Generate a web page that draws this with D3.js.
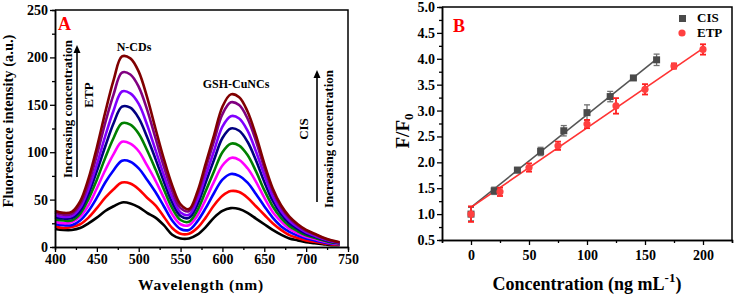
<!DOCTYPE html>
<html>
<head>
<meta charset="utf-8">
<script src="https://cdn.jsdelivr.net/npm/d3@7"></script>
<style>
body { margin: 0; background: #fff; }
svg text { font-family: "Liberation Serif", "Times New Roman", serif; font-weight: bold; }
</style>
</head>
<body>
<svg id="fig" width="734" height="297"></svg>
<script>
// ---- panel A : emission spectra ----
const wavelengths = [400,410,420,430,440,450,460,470,480,490,500,510,520,530,540,550,
  560,570,580,590,600,610,620,630,640,650,660,670,680,690,700,710,720,730,740];

const specBlack   = [19,18,18,20,25,31,38,43,47,46,42,36,31,23,13,9,
  9,13,21,31,38,41,40,36,30,24,18,13,9,7,5,4,3,2,2];
const specRed     = [22,20,21,24,31,41,52,61,68,67,61,52,44,32,20,14,
  14,20,31,44,54,59,58,52,43,34,25,18,12.5,9.6,7,5.5,4,2.8,2.5];
const specBlue    = [24,23,23,28,38,52,68,81,91,90,83,71,58,43,28,19,
  18,27,41,57,71,77,75,68,56,43,31,22,16,12,9,7,5,3.5,3];
const specMagenta = [27,25,26,32,44,62,81,98,111,109,101,86,70,52,34.5,24,
  23,33,50,69,86,94,92,83,69,52,37,27,19,14.5,10.7,8.4,6,4.2,3.3];
const specGreen   = [29,28,28,35,50.5,71,94,115,130.5,129,119.5,102,82,61,41,28.5,
  26.6,38.5,59,80,100,109,107,97,80,60,43,30.6,22,16.6,12.4,9.7,7,4.8,3.7];
const specNavy    = [31.5,30,30.5,38.4,56,80,106,130.5,148,147,136,116,93,69,47,32.7,
  30.7,44.5,68,92,115,125,122.6,111,91.6,68.8,48.8,34.7,25,19,14,11,8,5.5,4];
const specViolet  = [33.5,31.7,32.5,41.3,61,87,117,144,164,162,151,129,102.5,76,52.6,36.4,
  34,49.5,75,101.5,127,138,135.6,122.7,101,76,53.6,38,27.6,20.8,15.5,12,8.7,6,4.4];
const specPurple  = [36,34,35,45,67,97,131,161,184,182,169,145,115,85,59,41,
  37.8,55,83,112,140,152.6,149.7,135.5,112,83.5,59,41.8,30.4,22.8,17,13.3,9.5,6.7,4.8];
const specMaroon  = [38,36,37,48,72,105,142,176,201,199,185,158,125,93,65,45,
  40,58,88,118,148,161,158,143,118,88,62,44,32,24,18,14,10,7,5];

const spectra = [
  { values: specBlack,   color: "#000000" },
  { values: specRed,     color: "#ff0000" },
  { values: specBlue,    color: "#0000ff" },
  { values: specMagenta, color: "#ff00ff" },
  { values: specGreen,   color: "#008000" },
  { values: specNavy,    color: "#000080" },
  { values: specViolet,  color: "#8000ff" },
  { values: specPurple,  color: "#800080" },
  { values: specMaroon,  color: "#800000" }
];

const xTicksA = [400,450,500,550,600,650,700,750];
const yTicksA = [0,50,100,150,200,250];

// ---- panel B : calibration ----
const concCIS  = [0,20,40,60,80,100,120,140,160];
const ratioCIS = [1.00,1.45,1.85,2.21,2.61,2.96,3.27,3.63,3.98];
const errCIS   = [0.13,0.07,0.05,0.08,0.10,0.15,0.10,0.04,0.11];
const concETP  = [0,25,50,75,100,125,150,175,200];
const ratioETP = [1.00,1.43,1.90,2.32,2.74,3.09,3.41,3.86,4.18];
const errETP   = [0.15,0.08,0.08,0.08,0.08,0.15,0.10,0.05,0.10];
const fitCIS = [1.13, 0.0179];   // intercept, slope
const fitETP = [1.13, 0.01535];

const xTicksB = [0,50,100,150,200];
const yTicksB = [0.5,1.0,1.5,2.0,2.5,3.0,3.5,4.0,4.5,5.0];

const svg = d3.select("#fig");

function styleAxis(g, size) {
  g.select(".domain").attr("stroke", "#000").attr("stroke-width", 1.5);
  g.selectAll(".tick line").attr("stroke", "#000").attr("stroke-width", 1.3);
  g.selectAll("text").attr("font-size", size).attr("fill", "#000")
    .attr("font-family", "Liberation Serif").attr("font-weight", "bold");
}

// ================= A =================
const xA = d3.scaleLinear().domain([400, 750]).range([55, 348]);
const yA = d3.scaleLinear().domain([0, 250]).range([247, 10]);

const gA = svg.append("g");

const lineA = d3.line()
  .x((d, i) => xA(wavelengths[i]))
  .y(d => yA(d))
  .curve(d3.curveCatmullRom);

gA.selectAll(".spec")
  .data(spectra)
  .enter().append("path")
    .attr("class", "spec")
    .attr("d", d => lineA(d.values))
    .attr("fill", "none")
    .attr("stroke", d => d.color)
    .attr("stroke-width", 2.6);

// minor ticks
gA.append("g").attr("transform", "translate(0,247)")
  .call(d3.axisBottom(xA).tickValues(d3.range(425, 750, 50)).tickSize(3).tickFormat(""))
  .call(g => styleAxis(g, 14));
gA.append("g").attr("transform", "translate(55,0)")
  .call(d3.axisLeft(yA).tickValues(d3.range(25, 250, 50)).tickSize(3).tickFormat(""))
  .call(g => styleAxis(g, 14));

gA.append("g").attr("transform", "translate(0,247)")
  .call(d3.axisBottom(xA).tickValues(xTicksA).tickSize(5).tickPadding(2).tickSizeOuter(0))
  .call(g => styleAxis(g, 14));
gA.append("g").attr("transform", "translate(55,0)")
  .call(d3.axisLeft(yA).tickValues(yTicksA).tickSize(5).tickPadding(2).tickSizeOuter(0))
  .call(g => styleAxis(g, 14));

// frame
gA.append("path")
  .attr("d", `M${xA(400)},${yA(250)}H${xA(750)}V${yA(0)}`)
  .attr("fill", "none").attr("stroke", "#000").attr("stroke-width", 1.5);

gA.append("text").attr("transform", "translate(13,121) rotate(-90)")
  .attr("text-anchor", "middle").attr("font-size", 14.5)
  .text("Fluorescence intensity (a.u.)");
gA.append("text").attr("x", 201).attr("y", 290)
  .attr("text-anchor", "middle").attr("font-size", 15.5).attr("letter-spacing", 0.8)
  .text("Wavelength (nm)");

gA.append("text").attr("x", 58).attr("y", 30).attr("font-size", 18).attr("fill", "#ff0000").text("A");
gA.append("text").attr("x", 134).attr("y", 51).attr("text-anchor", "middle").attr("font-size", 12).text("N-CDs");
gA.append("text").attr("x", 236).attr("y", 88).attr("text-anchor", "middle").attr("font-size", 12).text("GSH-CuNCs");

// arrows
function arrow(x, yBottom, yTop) {
  gA.append("line").attr("x1", x).attr("x2", x).attr("y1", yBottom).attr("y2", yTop + 6)
    .attr("stroke", "#000").attr("stroke-width", 1.6);
  gA.append("path").attr("d", `M${x},${yTop}L${x - 3.5},${yTop + 8}L${x + 3.5},${yTop + 8}Z`).attr("fill", "#000");
}
arrow(77, 177, 45);
arrow(317, 202, 70);

gA.append("text").attr("transform", "translate(72,109) rotate(-90)")
  .attr("text-anchor", "middle").attr("font-size", 13).text("Increasing concentration");
gA.append("text").attr("transform", "translate(93,95) rotate(-90)")
  .attr("text-anchor", "middle").attr("font-size", 13).text("ETP");
gA.append("text").attr("transform", "translate(333,139) rotate(-90)")
  .attr("text-anchor", "middle").attr("font-size", 13).text("Increasing concentration");
gA.append("text").attr("transform", "translate(308,129) rotate(-90)")
  .attr("text-anchor", "middle").attr("font-size", 13).text("CIS");

// ================= B =================
const xB = d3.scaleLinear().domain([-25, 225]).range([442, 732]);
const yB = d3.scaleLinear().domain([0.5, 5.0]).range([240, 7]);

const gB = svg.append("g");

gB.append("g").attr("transform", "translate(0,240)")
  .call(d3.axisBottom(xB).tickValues(d3.range(-25, 226, 50)).tickSize(3).tickFormat(""))
  .call(g => styleAxis(g, 14));
gB.append("g").attr("transform", "translate(442,0)")
  .call(d3.axisLeft(yB).tickValues(d3.range(0.75, 5, 0.5)).tickSize(3).tickFormat(""))
  .call(g => styleAxis(g, 14));

gB.append("g").attr("transform", "translate(0,240)")
  .call(d3.axisBottom(xB).tickValues(xTicksB).tickSize(5).tickPadding(5).tickSizeOuter(0))
  .call(g => styleAxis(g, 14));
gB.append("g").attr("transform", "translate(442,0)")
  .call(d3.axisLeft(yB).tickValues(yTicksB).tickFormat(d3.format(".1f")).tickSize(5).tickPadding(2).tickSizeOuter(0))
  .call(g => styleAxis(g, 14));

gB.append("path")
  .attr("d", `M${xB(-25)},${yB(5)}H${xB(225)}V${yB(0.5)}`)
  .attr("fill", "none").attr("stroke", "#000").attr("stroke-width", 1.5);

// fit lines
function fitLine(fit, xs, color) {
  const x0 = d3.min(xs), x1 = d3.max(xs);
  gB.append("line")
    .attr("x1", xB(x0)).attr("y1", yB(fit[0] + fit[1] * x0))
    .attr("x2", xB(x1)).attr("y2", yB(fit[0] + fit[1] * x1))
    .attr("stroke", color).attr("stroke-width", 1.6);
}
fitLine(fitCIS, concCIS, "#555555");
fitLine(fitETP, concETP, "#ff3333");

function errorBars(xs, ys, es, color, w) {
  const g = gB.append("g").attr("stroke", color).attr("stroke-width", w);
  xs.forEach((c, i) => {
    const x = xB(c), yt = yB(ys[i] + es[i]), yb = yB(ys[i] - es[i]);
    g.append("line").attr("x1", x).attr("x2", x).attr("y1", yt).attr("y2", yb);
    g.append("line").attr("x1", x - 3).attr("x2", x + 3).attr("y1", yt).attr("y2", yt);
    g.append("line").attr("x1", x - 3).attr("x2", x + 3).attr("y1", yb).attr("y2", yb);
  });
}
errorBars(concCIS, ratioCIS, errCIS, "#707070", 1.3);
gB.selectAll(".sqCIS").data(concCIS).enter().append("rect")
  .attr("x", (d) => xB(d) - 3.5).attr("y", (d, i) => yB(ratioCIS[i]) - 3.5)
  .attr("width", 7).attr("height", 7).attr("fill", "#4a4a4a");

errorBars(concETP, ratioETP, errETP, "#ff2020", 1.8);
gB.selectAll(".dotETP").data(concETP).enter().append("circle")
  .attr("cx", d => xB(d)).attr("cy", (d, i) => yB(ratioETP[i]))
  .attr("r", 3.6).attr("fill", "#ff4040");

// legend
gB.append("rect").attr("x", 679).attr("y", 15).attr("width", 7).attr("height", 7).attr("fill", "#4a4a4a");
gB.append("text").attr("x", 697).attr("y", 22).attr("font-size", 13).text("CIS");
gB.append("circle").attr("cx", 682).attr("cy", 33).attr("r", 3.6).attr("fill", "#ff4040");
gB.append("text").attr("x", 697).attr("y", 37).attr("font-size", 13).text("ETP");

gB.append("text").attr("x", 453).attr("y", 32).attr("font-size", 18).attr("fill", "#ff0000").text("B");

const yl = gB.append("text").attr("transform", "translate(409,131) rotate(-90)")
  .attr("text-anchor", "middle").attr("font-size", 19);
yl.append("tspan").text("F/F");
yl.append("tspan").attr("font-size", 13).attr("dy", 4).text("0");

const xl = gB.append("text").attr("x", 587).attr("y", 290)
  .attr("text-anchor", "middle").attr("font-size", 18);
xl.append("tspan").text("Concentration (ng mL");
xl.append("tspan").attr("font-size", 13).attr("dy", -8).text("-1");
xl.append("tspan").attr("dy", 8).text(")");
</script>
</body>
</html>
